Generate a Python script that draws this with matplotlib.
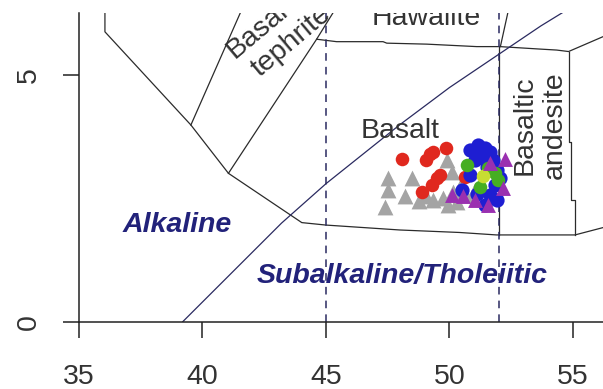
import numpy as np
import matplotlib.pyplot as plt

plt.rcParams['font.family'] = ['Liberation Sans', 'DejaVu Sans']

# --- analyses: SiO2 (wt%) vs Na2O+K2O (wt%) for each group ---
gray_sio2 = [47.51, 47.51, 47.39, 48.47, 48.20, 49.89, 50.09, 49.33, 49.74,
             50.14, 49.94, 50.42, 50.29, 50.67, 51.03, 49.05, 48.75]
gray_alk = [2.92, 2.67, 2.33, 2.92, 2.54, 3.28, 3.04, 2.47, 2.51,
            2.64, 2.37, 2.74, 2.43, 2.57, 2.67, 2.55, 2.45]

red_sio2 = [48.06, 49.05, 49.21, 49.33, 49.86, 49.48, 49.28, 48.87, 49.60, 50.63]
red_alk = [3.31, 3.28, 3.40, 3.45, 3.52, 2.91, 2.77, 2.64, 2.98, 2.94]

blue_sio2 = [50.83, 51.15, 51.44, 51.64, 51.03, 51.36, 51.76, 51.52, 51.92,
             50.83, 51.84, 51.64, 51.92, 51.44, 50.51, 52.04, 51.25, 51.10]
blue_alk = [3.48, 3.58, 3.52, 3.44, 3.28, 3.32, 3.28, 3.14, 3.08,
            2.98, 2.77, 2.57, 2.47, 2.37, 2.67, 2.92, 3.45, 2.60]

green_sio2 = [50.70, 51.84, 51.98, 51.23, 51.56]
green_alk = [3.18, 3.01, 2.87, 2.74, 3.12]

lime_sio2 = [51.37]
lime_alk = [2.95]

purple_sio2 = [50.09, 50.55, 51.64, 52.25, 51.56, 52.17, 51.03]
purple_alk = [2.57, 2.54, 3.21, 3.31, 2.37, 2.71, 2.47]

# --- field boundaries (SiO2, total alkali) ---
lower_boundary = [(36.05, 6.40), (36.05, 5.88), (39.53, 3.99), (41.05, 3.01),
                  (44.02, 2.01), (45.00, 1.96), (48.00, 1.86), (50.40, 1.81),
                  (51.90, 1.76), (55.08, 1.76), (56.30, 1.92)]
tephrite_left = [(39.53, 3.99), (41.65, 6.40)]
tephrite_right = [(41.05, 3.01), (44.62, 5.73), (45.45, 6.40)]
hawaiite_base = [(44.62, 5.73), (45.43, 5.68), (47.31, 5.68), (47.46, 5.65),
                 (49.08, 5.63), (51.10, 5.58), (52.04, 5.58), (53.66, 5.53),
                 (54.34, 5.51), (54.82, 5.48), (56.30, 5.80)]
andesite_right = [(54.82, 5.48), (54.82, 3.65), (54.90, 3.65), (54.90, 2.47),
                  (55.08, 2.47), (55.08, 1.76)]
basalt_right = [(52.0, 5.58), (52.0, 1.76)]
hawaiite_right = [(52.06, 5.58), (52.42, 6.40)]

# Irvine & Baragar alkaline / subalkaline divide
ib_sio2 = [39.2, 40.0, 43.2, 45.0, 48.0, 50.0, 53.7, 55.0]
ib_alk = [0.0, 0.4, 2.0, 2.8, 4.0, 4.75, 6.0, 6.4]

x_ticks = [35, 40, 45, 50, 55]
y_ticks = [0, 5]

W, H = 603, 389
fig = plt.figure(figsize=(W / 100, H / 100), dpi=100)
ax = fig.add_axes([79 / W, (H - 321.7) / H, (W - 79) / W, (321.7 - 13) / H])
ax.set_xlim(35, 35 + (W - 79) / 24.7)
ax.set_ylim(0, (321.7 - 13) / 49.3)

line_col = '#2b2b2b'
navy = '#22227a'

for seg in [lower_boundary, tephrite_left, tephrite_right, hawaiite_base,
            andesite_right, basalt_right, hawaiite_right]:
    xs, ys = zip(*seg)
    ax.plot(xs, ys, color=line_col, lw=0.9)

ax.plot(ib_sio2, ib_alk, color='#2a2a60', lw=0.9)
for xv in (45, 52):
    ax.plot([xv, xv], [0, 7], color='#2a2a60', lw=1.1, ls=(0, (5, 4)))

# labels of the fields
fs = 20.5
ax.text(49.07, 6.01, 'Hawaiite', fontsize=fs, ha='center', va='baseline',
        color='#333333', clip_on=True)
ax.text(48.0, 3.72, 'Basalt', fontsize=fs, ha='center', va='baseline',
        color='#333333')
ax.text(53.66, 3.99, 'Basaltic\nandesite', fontsize=fs, ha='center', va='center',
        rotation=90, multialignment='center', color='#333333')
ax.text(43.22, 5.92, 'Basanite\ntephrite', fontsize=fs, ha='center', va='center',
        rotation=40, multialignment='center', color='#333333', clip_on=True)
ax.text(38.97, 1.96, 'Alkaline', fontsize=fs, ha='center', va='center',
        color=navy, fontweight='bold', fontstyle='italic')
ax.text(48.08, 0.92, 'Subalkaline/Tholeiitic', fontsize=fs, ha='center',
        va='center', color=navy, fontweight='bold', fontstyle='italic')

# samples
ax.scatter(gray_sio2, gray_alk, marker='^', s=130, color='#a4a4a4', lw=0, zorder=3)
ax.scatter(red_sio2, red_alk, marker='o', s=95, color='#e0281e', lw=0, zorder=4)
ax.scatter(blue_sio2, blue_alk, marker='o', s=105, color='#1e1ed2', lw=0, zorder=5)
ax.scatter(green_sio2, green_alk, marker='o', s=95, color='#46ae22', lw=0, zorder=6)
ax.scatter(lime_sio2, lime_alk, marker='o', s=95, color='#c8dc32', lw=0, zorder=7)
ax.scatter(purple_sio2, purple_alk, marker='^', s=115, color='#9a30b0', lw=0, zorder=8)

for side in ('top', 'right'):
    ax.spines[side].set_visible(False)
for side in ('left', 'bottom'):
    ax.spines[side].set_linewidth(1.1)
    ax.spines[side].set_color('#222222')

ax.set_xticks(x_ticks)
ax.set_yticks(y_ticks)
ax.tick_params(direction='out', length=11.5, width=1.1, color='#222222',
               labelsize=fs, labelcolor='#333333')
ax.tick_params(axis='x', pad=19)
ax.tick_params(axis='y', pad=15, labelrotation=90)
for lab in ax.get_yticklabels():
    lab.set_va('center')

fig.savefig('out.png', dpi=100)
